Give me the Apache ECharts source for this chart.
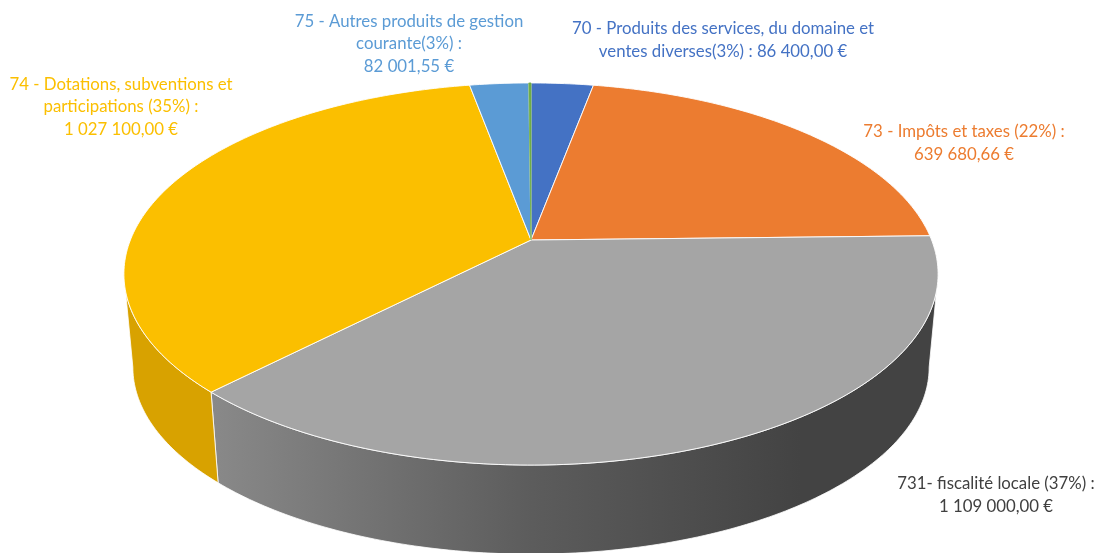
<!DOCTYPE html>
<html>
<head>
<meta charset="utf-8">
<style>html,body{margin:0;padding:0;background:#fff}#c{width:1096px;height:553px}</style>
<script src="https://cdn.jsdelivr.net/npm/echarts@6/dist/echarts.min.js"></script>
</head>
<body>
<div id="c"></div>
<script>
const categories = ['70','73','731','74','75','autres'];
const values = [86400.00, 639680.66, 1109000.00, 1027100.00, 82001.55, 3000];
const colors = ['#4472c4','#ec7c30','#a5a5a5','#fbbf00','#5b9bd5','#70ad47'];
const sideLeft = ['#3a62a8','#c96a2a','#8a8a8a','#d8a200','#4d84b5','#5f933c'];
const sideMid = ['#3a62a8','#c96a2a','#5c5c5c','#d8a200','#4d84b5','#5f933c'];
const sideRight = ['#3a62a8','#c96a2a','#434343','#d8a200','#4d84b5','#5f933c'];
const labels = [
  '70 - Produits des services, du domaine et\nventes diverses(3%) : 86 400,00 €',
  '73 - Impôts et taxes (22%) :\n639 680,66 €',
  '731- fiscalité locale (37%) :\n1 109 000,00 €',
  '74 - Dotations, subventions et\nparticipations (35%) :\n1 027 100,00 €',
  '75 - Autres produits de gestion\ncourante(3%) :\n82 001,55 €',
  ''
];
const labelColors = ['#4472c4','#ec7c30','#404040','#fbbf00','#5b9bd5','#70ad47'];
const labelX = [723,964,996,121,409,0];
const labelY = [40,143,495,107,44,0];

// perspective disc layout
const CX = 531, CY = 240, A = 400.6, B = 185, K = 0.178;
const DEPTH = 94, BOTTOM_SCALE = 0.978;
const total = values.reduce((s,v)=>s+v,0);
const cum = [0];
values.forEach((v,i)=>cum.push(cum[i]+v));
const ang = f => f*Math.PI*2;
const T_RIGHT = Math.acos(-K), T_LEFT = 2*Math.PI - T_RIGHT;
function pt(t, bottom){
  const u = Math.sin(t), v = -Math.cos(t), w = 1-K*v;
  const s = bottom ? BOTTOM_SCALE : 1;
  return [CX + s*A*u/w, CY + (bottom?DEPTH:0) + s*B*v/w];
}
function arcBetween(a0, a1, bottom){
  const n = Math.max(2, Math.ceil((a1-a0)/0.015));
  const out = [];
  for(let j=0;j<=n;j++) out.push(pt(a0+(a1-a0)*j/n, bottom));
  return out;
}
const chart = echarts.init(document.getElementById('c'), null, {renderer:'canvas'});
const seriesData = values.map((v,i)=>[v,i]);
chart.setOption({
  animation:false,
  backgroundColor:'#fff',
  series:[
    {type:'custom',coordinateSystem:'none',data:seriesData,z:1,silent:true,
     renderItem(p,api){
       const i = api.value(1);
       const a0 = Math.max(ang(cum[i]/total), T_RIGHT), a1 = Math.min(ang(cum[i+1]/total), T_LEFT);
       if(a1 <= a0) return null;
       const pts = arcBetween(a0,a1,false).concat(arcBetween(a0,a1,true).reverse());
       return {type:'polygon',shape:{points:pts},
         style:{fill:new echarts.graphic.LinearGradient(205,0,800,0,[
           {offset:0,color:sideLeft[i]},{offset:0.55,color:sideMid[i]},{offset:1,color:sideRight[i]}],true),
           stroke:'#fff',lineWidth:0.8}};
     }},
    {type:'custom',coordinateSystem:'none',data:seriesData,z:2,silent:true,
     renderItem(p,api){
       const i = api.value(1);
       const pts = [[CX,CY]].concat(arcBetween(ang(cum[i]/total),ang(cum[i+1]/total),false));
       return {type:'polygon',shape:{points:pts},
         style:{fill:colors[i],stroke:i===5?colors[i]:'#fff',lineWidth:i===5?0.8:0.9}};
     }},
    {type:'custom',coordinateSystem:'none',data:seriesData,z:3,silent:true,
     renderItem(p,api){
       const i = api.value(1);
       if(!labels[i]) return null;
       return {type:'text',x:labelX[i],y:labelY[i],
         style:{text:labels[i],fill:labelColors[i],font:'16.8px Lato',lineHeight:22.5,
           align:'center',verticalAlign:'middle'}};
     }}
  ]
});
</script>
</body>
</html>
